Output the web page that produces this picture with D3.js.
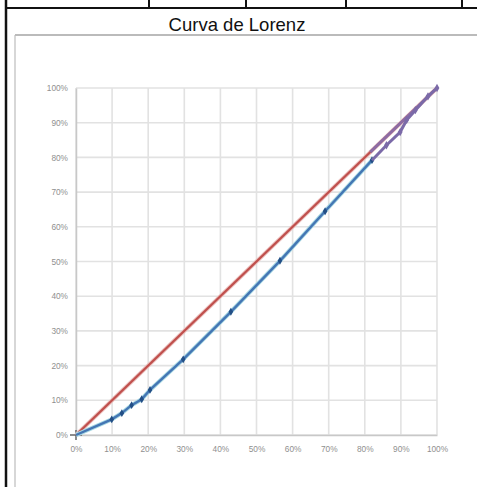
<!DOCTYPE html>
<html><head><meta charset="utf-8">
<script src="https://cdn.jsdelivr.net/npm/d3@7"></script>
<style>html,body{margin:0;padding:0;background:#fff}svg{display:block}</style>
</head><body>
<script>
// ---- data ----
const title = "Curva de Lorenz";
const tickValues = [0,0.1,0.2,0.3,0.4,0.5,0.6,0.7,0.8,0.9,1.0];
const equalityX = [0, 1.0];
const equalityY = [0, 1.0];
const lorenzX = [0, 0.099, 0.127, 0.154, 0.182, 0.205, 0.297, 0.429, 0.565, 0.69, 0.82];
const lorenzY = [0, 0.045, 0.063, 0.086, 0.103, 0.13, 0.218, 0.355, 0.502, 0.645, 0.792];
const tailX = [0.82, 0.86, 0.898, 0.916, 0.94, 0.975, 1.0];
const tailY = [0.792, 0.835, 0.873, 0.908, 0.936, 0.976, 1.0];
const tailDiagX = [0.815, 1.0];
const tailDiagY = [0.815, 1.0];
const tableDividers = [149, 246, 346, 462];

const W = 477, H = 487;
const svg = d3.select("body").append("svg").attr("width", W).attr("height", H);

// outer table frame
svg.append("line").attr("x1",6).attr("x2",6).attr("y1",0).attr("y2",H).attr("stroke","#111").attr("stroke-width",2.5);
svg.append("line").attr("x1",6).attr("x2",W).attr("y1",8).attr("y2",8).attr("stroke","#111").attr("stroke-width",2);
svg.selectAll("line.div").data(tableDividers).join("line").attr("class","div")
  .attr("x1",d=>d).attr("x2",d=>d).attr("y1",0).attr("y2",8).attr("stroke","#111").attr("stroke-width",2);

// chart object border
svg.append("line").attr("x1",15).attr("x2",W).attr("y1",35).attr("y2",35).attr("stroke","#a5a5a5").attr("stroke-width",1.5);
svg.append("line").attr("x1",15).attr("x2",15).attr("y1",35).attr("y2",H).attr("stroke","#bdbdbd").attr("stroke-width",1.2);

// title
svg.append("text").attr("x",237).attr("y",31).attr("text-anchor","middle")
  .attr("font-family","Liberation Sans, Arial, sans-serif").attr("font-size",18.5)
  .attr("fill","#111").text(title);

const x = d3.scaleLinear().domain([0,1]).range([76,437]);
const y = d3.scaleLinear().domain([0,1]).range([435,88]);
const fmt = d3.format(".0%");

// gridlines
const g = svg.append("g");
g.selectAll("line.h").data(tickValues).join("line").attr("class","h")
  .attr("x1",x(0)).attr("x2",x(1)).attr("y1",d=>y(d)).attr("y2",d=>y(d))
  .attr("stroke","#e2e2e2").attr("stroke-width",1.6);
g.selectAll("line.v").data(tickValues).join("line").attr("class","v")
  .attr("x1",d=>x(d)).attr("x2",d=>x(d)).attr("y1",y(0)).attr("y2",y(1))
  .attr("stroke","#e2e2e2").attr("stroke-width",1.6);

// axes
const xa = svg.append("g").attr("transform",`translate(0,${y(0)})`)
  .call(d3.axisBottom(x).tickValues(tickValues).tickFormat(fmt).tickSize(0).tickPadding(11));
const ya = svg.append("g").attr("transform",`translate(${x(0)},0)`)
  .call(d3.axisLeft(y).tickValues(tickValues).tickFormat(fmt).tickSize(0).tickPadding(8));
[xa,ya].forEach(a=>{
  a.select(".domain").attr("stroke","#c8c8c8").attr("stroke-width",1.5);
  a.selectAll("text").attr("fill","#8f8f8f").attr("font-size",8.3)
    .attr("font-family","Liberation Sans, Arial, sans-serif");
});
// origin cross
svg.append("path").attr("d",`M${x(0)-6},${y(0)}H${x(0)+6}M${x(0)},${y(0)-5}V${y(0)+5}`)
  .attr("stroke","#666").attr("stroke-width",1.5);

const line = d3.line().x(d=>x(d[0])).y(d=>y(d[1]));
const eq = d3.zip(equalityX, equalityY);
const lz = d3.zip(lorenzX, lorenzY);
const tl = d3.zip(tailX, tailY);
const td = d3.zip(tailDiagX, tailDiagY);

// equality line
svg.append("path").attr("d",line(eq)).attr("fill","none").attr("stroke","#ecc2c0").attr("stroke-width",4);
svg.append("path").attr("d",line(eq)).attr("fill","none").attr("stroke","#c0504d").attr("stroke-width",2.3);
// lorenz line
svg.append("path").attr("d",line(lz)).attr("fill","none").attr("stroke","#a8d8e3").attr("stroke-width",4.2);
svg.append("path").attr("d",line(lz)).attr("fill","none").attr("stroke","#4476b4").attr("stroke-width",2.4);
svg.selectAll("path.m").data(lz.slice(1)).join("path").attr("class","m")
  .attr("d",d3.symbol(d3.symbolDiamond,18))
  .attr("transform",d=>`translate(${x(d[0])},${y(d[1])})`).attr("fill","#234f86");
// overlapping tail (purple)
svg.append("path").attr("d",line(td)).attr("fill","none").attr("stroke","#8d6ca4").attr("stroke-width",3);
svg.append("path").attr("d",line(tl)).attr("fill","none").attr("stroke","#7b6aa8").attr("stroke-width",3);
svg.selectAll("path.t").data(tl.slice(1)).join("path").attr("class","t")
  .attr("d",d3.symbol(d3.symbolDiamond,20))
  .attr("transform",d=>`translate(${x(d[0])},${y(d[1])})`).attr("fill","#7b6aa8");
</script>
</body></html>
